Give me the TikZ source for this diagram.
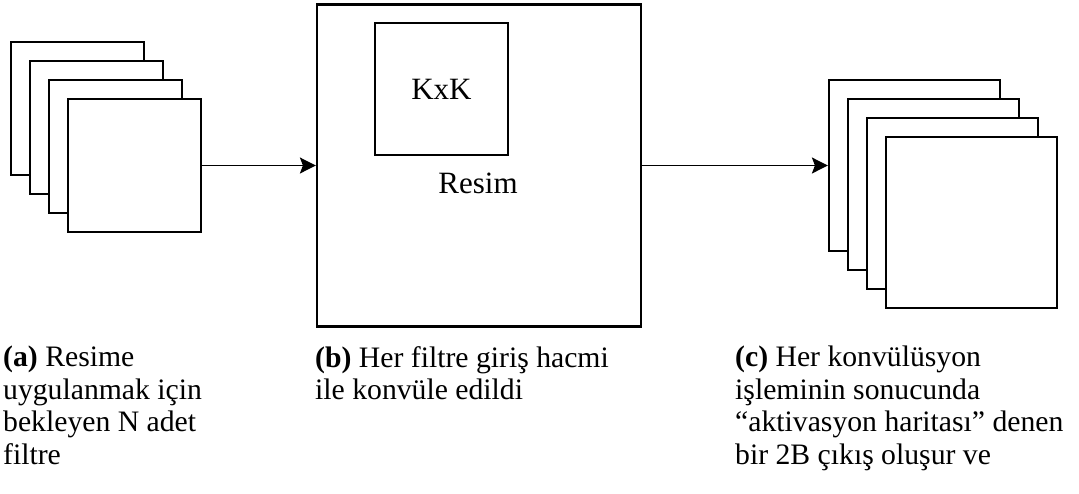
\documentclass[tikz,border=0pt]{standalone}
\usepackage{fontspec}
\setmainfont{Liberation Serif}
\usetikzlibrary{positioning,arrows.meta}

\tikzset{
  sheet/.style={draw, line width=2.2pt, fill=white, inner sep=0pt},
  flow/.style={line width=1.4pt, -{Stealth[length=16pt,width=16pt,inset=3pt]}},
  label/.style={font=\fontsize{31}{36}\selectfont},
  caption/.style={anchor=north west, align=left, inner sep=0pt}
}

\begin{document}
\begin{tikzpicture}[x=1pt,y=-1pt,font=\fontsize{29.7}{32.5}\selectfont]
  \useasboundingbox (0,0) rectangle (1079,493);

  % N filters, back to front
  \foreach \i in {0,...,3}
    \node[sheet, minimum width=133pt, minimum height=133pt] (filt\i) at (77.5+19*\i, 108.5+19*\i) {};

  % input volume with the KxK window
  \node[sheet, minimum width=324pt, minimum height=322pt] (img) at (479,165.5) {};
  \node[sheet, label, minimum width=133pt, minimum height=132pt] (kern) at (441.5,89) {KxK};
  \node[label] (resim) at (478,183) {Resim};

  % activation maps, back to front
  \foreach \i in {0,...,3}
    \node[sheet, minimum width=171pt, minimum height=171pt] (map\i) at (914.5+19*\i, 165.5+19*\i) {};

  \draw[flow] (filt3) -- (img);
  \draw[flow] (img) -- (map0);

  % captions
  \node[caption] (capa) at (3,346) {\textbf{(a)} Resime\\uygulanmak için\\bekleyen N adet\\filtre};
  \node[caption] (capb) at (315,346) {\textbf{(b)} Her filtre giriş hacmi\\ile konvüle edildi};
  \node[caption] (capc) at (735,346) {\textbf{(c)} Her konvülüsyon\\işleminin sonucunda\\“aktivasyon haritası” denen\\bir 2B çıkış oluşur ve};
\end{tikzpicture}
\end{document}
